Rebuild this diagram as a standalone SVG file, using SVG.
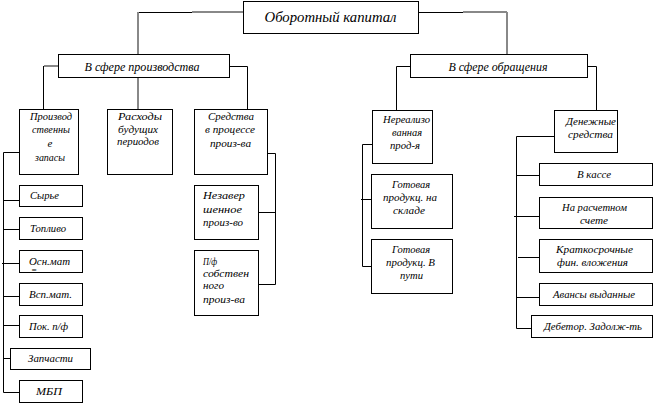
<svg xmlns="http://www.w3.org/2000/svg" width="665" height="409" viewBox="0 0 665 409" font-family="Liberation Serif, Times New Roman, serif" font-style="italic">
<style>
.b{fill:#fff;stroke:#000;stroke-width:1}
.c{fill:none;stroke:#000;stroke-width:1}
.g{fill:none;stroke:#888;stroke-width:2}
text{font-size:11px;fill:#000}
.m{text-anchor:middle}
.t{font-size:15px}
.s{font-size:12px}
</style>
<rect width="665" height="409" fill="#fff"/>
<g id="connectors">
<path class="c" d="M192,12.5H138.5"/>
<path class="g" d="M243,12H192M138,12V54"/>
<path class="c" d="M418,12.5H463"/>
<path class="g" d="M463,12H507M507,12V54"/>
<path class="g" d="M58,66H44"/>
<path class="c" d="M43.5,66V109"/>
<path class="g" d="M138,77V109"/>
<path class="c" d="M229,66.5H247.5V109"/>
<path class="c" d="M410,66.5H396.5V110"/>
<path class="c" d="M587,66.5H596.5V110"/>
<path class="c" d="M19,152.5H3.5V392.5H19M3,200.5H19M3,229.5H19M2,263.5H19M3,296.5H19M3,325.5H19M3,358.5H10"/>
<path class="c" d="M267,153.5H275.5V284.5H258M258,212.5H275"/>
<path class="c" d="M372,144.5H362.5V266.5H371M361,199.5H371"/>
<path class="c" d="M554,136.5H516.5V328.5H531M516,175.5H539M514,216.5H539M518,257.5H539M516,297.5H539"/>
</g>
<g id="n-top"><rect class="b" x="243.5" y="1.5" width="175" height="32"/><text class="t m" x="330.5" y="22" textLength="132" lengthAdjust="spacingAndGlyphs">Оборотный капитал</text></g>
<g id="n-prod"><rect class="b" x="58.5" y="54.5" width="171" height="23"/><text class="s m" x="142" y="71" textLength="115" lengthAdjust="spacingAndGlyphs">В сфере производства</text></g>
<g id="n-obr"><rect class="b" x="410.5" y="54.5" width="177" height="23"/><text class="s m" x="498" y="71" textLength="99" lengthAdjust="spacingAndGlyphs">В сфере обращения</text></g>
<g id="n-zap"><rect class="b" x="19.5" y="109.5" width="59" height="65"/>
<text class="m" x="51" y="120" textLength="42" lengthAdjust="spacingAndGlyphs">Производ</text>
<text class="m" x="51" y="133" textLength="38" lengthAdjust="spacingAndGlyphs">ственны</text>
<text class="m" x="50" y="147">е</text>
<text class="m" x="50" y="161" textLength="30" lengthAdjust="spacingAndGlyphs">запасы</text></g>
<g id="n-rbp"><rect class="b" x="107.5" y="109.5" width="65" height="65"/>
<text class="m" x="140" y="120" textLength="44" lengthAdjust="spacingAndGlyphs">Расходы</text>
<text class="m" x="138" y="133" textLength="40" lengthAdjust="spacingAndGlyphs">будущих</text>
<text class="m" x="138" y="145" textLength="42" lengthAdjust="spacingAndGlyphs">периодов</text></g>
<g id="n-spr"><rect class="b" x="194.5" y="109.5" width="73" height="65"/>
<text class="m" x="231" y="120" textLength="46" lengthAdjust="spacingAndGlyphs">Средства</text>
<text class="m" x="230" y="133" textLength="50" lengthAdjust="spacingAndGlyphs">в процессе</text>
<text class="m" x="230.5" y="147" textLength="41" lengthAdjust="spacingAndGlyphs">произ-ва</text></g>
<g id="n-syr"><rect class="b" x="19.5" y="185.5" width="63" height="21"/><text x="30" y="199" textLength="29" lengthAdjust="spacingAndGlyphs">Сырье</text></g>
<g id="n-top2"><rect class="b" x="19.5" y="217.5" width="63" height="22"/><text x="30" y="232" textLength="36" lengthAdjust="spacingAndGlyphs">Топливо</text></g>
<g id="n-osn"><rect class="b" x="19.5" y="250.5" width="63" height="22"/><text x="29" y="264.5" textLength="41" lengthAdjust="spacingAndGlyphs">Осн.мат</text><text x="31" y="273" style="font-size:9px">=</text></g>
<g id="n-vsp"><rect class="b" x="19.5" y="283.5" width="63" height="22"/><text x="29" y="298" textLength="43" lengthAdjust="spacingAndGlyphs">Всп.мат.</text></g>
<g id="n-pok"><rect class="b" x="19.5" y="315.5" width="63" height="22"/><text x="29" y="330" textLength="39" lengthAdjust="spacingAndGlyphs">Пок. п/ф</text></g>
<g id="n-zch"><rect class="b" x="10.5" y="348.5" width="80" height="21"/><text x="28" y="362" textLength="45" lengthAdjust="spacingAndGlyphs">Запчасти</text></g>
<g id="n-mbp"><rect class="b" x="19.5" y="380.5" width="63" height="22"/><text class="m" x="49" y="395" textLength="26" lengthAdjust="spacingAndGlyphs">МБП</text></g>
<g id="n-nzp"><rect class="b" x="194.5" y="185.5" width="64" height="54"/>
<text x="203" y="199" textLength="42" lengthAdjust="spacingAndGlyphs">Незавер</text>
<text x="203" y="213" textLength="39" lengthAdjust="spacingAndGlyphs">шенное</text>
<text x="203" y="226" textLength="40" lengthAdjust="spacingAndGlyphs">произ-во</text></g>
<g id="n-pf"><rect class="b" x="194.5" y="250.5" width="64" height="65"/>
<text x="203" y="265" textLength="14" lengthAdjust="spacingAndGlyphs">П/ф</text>
<text x="203" y="277" textLength="46" lengthAdjust="spacingAndGlyphs">собствен</text>
<text x="203" y="289" textLength="21" lengthAdjust="spacingAndGlyphs">ного</text>
<text x="203" y="303" textLength="42" lengthAdjust="spacingAndGlyphs">произ-ва</text></g>
<g id="n-nerl"><rect class="b" x="372.5" y="110.5" width="60" height="53"/>
<text class="m" x="406.5" y="123" textLength="47" lengthAdjust="spacingAndGlyphs">Нереализо</text>
<text class="m" x="407" y="136" textLength="30" lengthAdjust="spacingAndGlyphs">ванная</text>
<text class="m" x="405" y="149" textLength="30" lengthAdjust="spacingAndGlyphs">прод-я</text></g>
<g id="n-gps"><rect class="b" x="371.5" y="174.5" width="81" height="54"/>
<text class="m" x="411" y="188" textLength="38" lengthAdjust="spacingAndGlyphs">Готовая</text>
<text class="m" x="410" y="201" textLength="54" lengthAdjust="spacingAndGlyphs">продукц. на</text>
<text class="m" x="409" y="214" textLength="32" lengthAdjust="spacingAndGlyphs">складе</text></g>
<g id="n-gpp"><rect class="b" x="371.5" y="239.5" width="81" height="54"/>
<text class="m" x="411" y="253" textLength="38" lengthAdjust="spacingAndGlyphs">Готовая</text>
<text class="m" x="410.5" y="266" textLength="49" lengthAdjust="spacingAndGlyphs">продукц. В</text>
<text class="m" x="411.5" y="279" textLength="23" lengthAdjust="spacingAndGlyphs">пути</text></g>
<g id="n-den"><rect class="b" x="554.5" y="110.5" width="63" height="42"/>
<text class="m" x="591" y="125" textLength="50" lengthAdjust="spacingAndGlyphs">Денежные</text>
<text class="m" x="590.5" y="138" textLength="45" lengthAdjust="spacingAndGlyphs">средства</text></g>
<g id="n-kas"><rect class="b" x="539.5" y="163.5" width="113" height="22"/><text class="m" x="594" y="178" textLength="34" lengthAdjust="spacingAndGlyphs">В кассе</text></g>
<g id="n-rs"><rect class="b" x="539.5" y="197.5" width="113" height="31"/>
<text class="m" x="594.5" y="211" textLength="65" lengthAdjust="spacingAndGlyphs">На расчетном</text>
<text class="m" x="594" y="224" textLength="28" lengthAdjust="spacingAndGlyphs">счете</text></g>
<g id="n-kfv"><rect class="b" x="539.5" y="239.5" width="113" height="33"/>
<text class="m" x="594.5" y="253" textLength="77" lengthAdjust="spacingAndGlyphs">Краткосрочные</text>
<text class="m" x="592.5" y="266" textLength="71" lengthAdjust="spacingAndGlyphs">фин. вложения</text></g>
<g id="n-av"><rect class="b" x="539.5" y="283.5" width="113" height="22"/><text class="m" x="594" y="298" textLength="82" lengthAdjust="spacingAndGlyphs">Авансы выданные</text></g>
<g id="n-deb"><rect class="b" x="531.5" y="315.5" width="121" height="22"/><text class="m" x="593" y="330" textLength="98" lengthAdjust="spacingAndGlyphs">Дебетор. Задолж-ть</text></g>
</svg>
